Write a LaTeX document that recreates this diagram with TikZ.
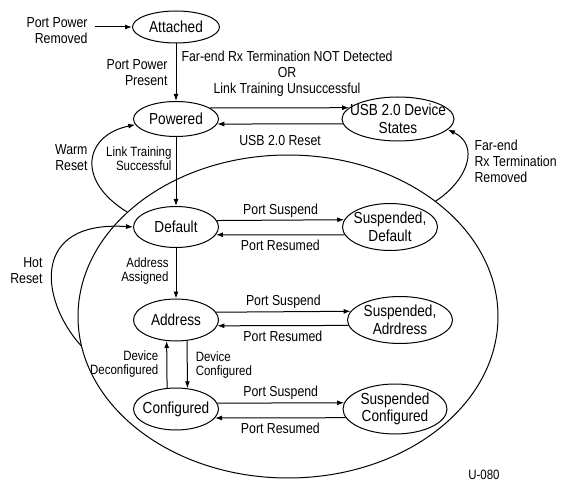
\documentclass[tikz,border=0pt]{standalone}
\usepackage{fontspec}
\setmainfont{Liberation Sans}[FakeStretch=0.85]
\usetikzlibrary{arrows.meta, shapes.geometric}
\newcommand\statefont{\fontsize{16}{17.5}\selectfont}
\newcommand\edgefont{\fontsize{14.5}{16}\selectfont}
\newcommand\notefont{\fontsize{13.5}{14}\selectfont}

\begin{document}
\begin{tikzpicture}[x=1pt, y=-1pt, line width=1pt,
  state/.style={draw, ellipse, inner xsep=-14pt, inner ysep=-8pt, align=center, font=\statefont},
  trans/.style={-{Latex[length=7pt, width=5pt]}},
  lbl/.style={inner sep=0pt, align=center, font=\edgefont},
  note/.style={inner sep=0pt, font=\notefont}]
  \useasboundingbox (0,0) rectangle (566,487);
  % region of the USB 3 device states
  \node[draw, ellipse, minimum width=420pt, minimum height=323pt] (region) at (288,316.5) {};
  \node[state, minimum width=87pt, minimum height=32pt]  (attached)   at (176,27)  {Attached};
  \node[state, minimum width=85pt, minimum height=35pt]  (powered)    at (176,119) {Powered};
  \node[state, minimum width=112pt, minimum height=44pt] (usb)        at (398,119) {USB 2.0 Device\\States};
  \node[state, minimum width=85pt, minimum height=41pt]  (default)    at (176,227) {Default};
  \node[state, minimum width=95pt, minimum height=47pt]  (susdef)     at (390,227) {Suspended,\\Default};
  \node[state, minimum width=85pt, minimum height=42pt]  (address)    at (176,320) {Address};
  \node[state, minimum width=105pt, minimum height=47pt] (susaddr)    at (400,320) {Suspended,\\Adrdress};
  \node[state, minimum width=85pt, minimum height=42pt]  (configured) at (176,409) {Configured};
  \node[state, minimum width=104pt, minimum height=50pt] (susconf)    at (395,409) {Suspended\\Configured};

  % power on
  \node[lbl, align=right, anchor=east] (removed) at (88,31) {Port Power\\Removed};
  \coordinate (pwroff) at (95,27);
  \draw[trans] (pwroff) -- (attached.west);
  \draw[trans] (attached) -- (powered)
     node[lbl, midway, left=8pt, align=right] (present) {Port Power\\Present};

  % fall back to USB 2.0
  \node[lbl] (fail) at (287,74) {Far-end Rx Termination NOT Detected\\OR\\Link Training Unsuccessful};
  \draw[trans] (powered.18.4) -- (usb.167.2);
  \draw[trans] (usb.185.2) -- (powered.-7)
     node[lbl, midway, below=11pt] (usbreset) {USB 2.0 Reset};

  % main chain
  \draw[trans] (powered) -- (default)
     node[lbl, pos=0.32, left=4pt, align=right, font=\notefont] (lts) {Link Training\\Successful};
  \draw[trans] (default) -- (address)
     node[lbl, pos=0.45, left=7pt, align=right, font=\notefont] (assigned) {Address\\Assigned};
  \draw[trans] (configured.113.7) -- (address.246.3)
     node[lbl, midway, left=8pt, align=right, font=\notefont] (deconf) {Device\\Deconfigured};
  \draw[trans] (address.298.5) -- (configured.61.5)
     node[lbl, midway, right=8pt, align=left, font=\notefont] (conf) {Device\\Configured};

  % suspend / resume
  \draw[trans] (default.9.95) -- (susdef.171.2) node[lbl, midway, above=2.5pt] (sus1) {Port Suspend};
  \draw[trans] (susdef.190.1) -- (default.-11.5) node[lbl, midway, below=5pt] (res1) {Port Resumed};
  \draw[trans] (address.11.5) -- (susaddr.170.8) node[lbl, midway, above=2.5pt] (sus2) {Port Suspend};
  \draw[trans] (susaddr.186.7) -- (address.-8.4) node[lbl, midway, below=5pt] (res2) {Port Resumed};
  \draw[trans] (configured.8.4) -- (susconf.173.2) node[lbl, midway, above=2.5pt] (sus3) {Port Suspend};
  \draw[trans] (susconf.190.5) -- (configured.-13.2) node[lbl, midway, below=5pt] (res3) {Port Resumed};

  % resets and removal
  \node[lbl, align=right, anchor=east] (warm) at (88,158) {Warm\\Reset};
  \draw[trans] (region.147) .. controls (75,180) and (85,135) .. (powered.188);
  \node[lbl, align=right, anchor=east] (hot) at (43,271) {Hot\\Reset};
  \draw[trans] (region.188) .. controls (40,300) and (30,220) .. (default.west);
  \node[lbl, align=left, anchor=west] (rxgone) at (474,161) {Far-end\\Rx Termination\\Removed};
  \draw[trans] (region.38) .. controls (468,180) and (480,145) .. (usb.-12);

  \node[note] (figid) at (484,475) {U-080};
\end{tikzpicture}
\end{document}
